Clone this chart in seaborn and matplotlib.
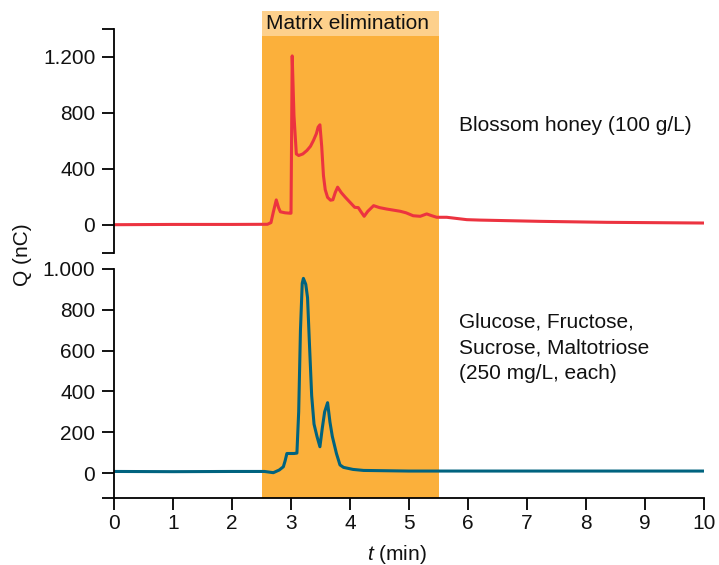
import matplotlib
matplotlib.use("Agg")
import matplotlib.pyplot as plt
import matplotlib.transforms as mtransforms
from matplotlib.patches import Rectangle
from matplotlib.ticker import FixedLocator
import seaborn as sns
import pandas as pd

# ---- data ----
honey_t = [0, 1, 2, 2.6, 2.66, 2.7, 2.75, 2.79, 2.82, 2.9, 2.98, 3.00, 3.02, 3.05, 3.09,
           3.13, 3.20, 3.27, 3.33, 3.38, 3.43, 3.46, 3.49, 3.52, 3.55, 3.58, 3.62, 3.67,
           3.71, 3.75, 3.79, 3.85, 3.92,
           4.0, 4.08, 4.14, 4.19, 4.24, 4.30, 4.40, 4.5, 4.62, 4.85, 4.95, 5.07, 5.19,
           5.30, 5.38, 5.47, 5.64, 5.8, 5.98, 6.2, 7.22, 8.35, 10]
honey_q = [0, 2, 2, 3, 15, 90, 177, 120, 92, 85, 82, 82, 1205, 780, 505,
           494, 505, 530, 560, 601, 650, 697, 713, 560, 350, 250, 195, 175,
           178, 230, 268, 230, 196,
           160, 124, 122, 90, 60, 95, 136, 122, 112, 96, 85, 64, 60,
           77, 65, 53, 53, 45, 36, 33, 24, 17, 12]

sugar_t = [0, 1, 2, 2.55, 2.70, 2.80, 2.87, 2.90, 2.93, 3.05, 3.10, 3.13, 3.16, 3.19,
           3.21, 3.25, 3.28, 3.31, 3.35, 3.39, 3.44, 3.49, 3.53, 3.57, 3.62, 3.66,
           3.70, 3.77, 3.83, 3.89, 4.05, 4.23, 5, 6, 7, 8, 9, 10]
sugar_q = [8, 7, 8, 8, 2, 15, 31, 60, 96, 96, 98, 300, 700, 930,
           954, 925, 860, 650, 380, 240, 180, 129, 220, 300, 345, 250,
           180, 96, 40, 28, 18, 13, 10, 10, 10, 10, 10, 10]

x_ticks = list(range(0, 11))
top_yticks = [0, 400, 800, 1200]
top_ylabels = ["0", "400", "800", "1.200"]
bot_yticks = [0, 200, 400, 600, 800, 1000]
bot_ylabels = ["0", "200", "400", "600", "800", "1.000"]

span = (2.5, 5.5)
span_label = "Matrix elimination"
honey_label = "Blossom honey (100 g/L)"
sugar_label = "Glucose, Fructose,\nSucrose, Maltotriose\n(250 mg/L, each)"

RED = "#EC3340"
BLUE = "#00637F"
ORANGE = "#FBB03B"
LIGHT = "#FDD08C"

sns.set_style("ticks")
plt.rcParams["font.family"] = ["Liberation Sans", "DejaVu Sans"]
plt.rcParams["mathtext.fontset"] = "custom"
plt.rcParams["mathtext.rm"] = "Liberation Sans"
plt.rcParams["mathtext.it"] = "Liberation Sans:italic"
FS = 15

fig = plt.figure(figsize=(7.19, 5.65), dpi=100)
ax1 = fig.add_axes([0.1586, 0.5527, 0.8205, 0.3967])
ax2 = fig.add_axes([0.1586, 0.1186, 0.8205, 0.4053])
for ax in (ax1, ax2):
    ax.set_facecolor("none")

df_h = pd.DataFrame({"t": honey_t, "q": honey_q})
df_s = pd.DataFrame({"t": sugar_t, "q": sugar_q})
sns.lineplot(data=df_h, x="t", y="q", ax=ax1, color=RED, lw=2.2, sort=False, estimator=None)
sns.lineplot(data=df_s, x="t", y="q", ax=ax2, color=BLUE, lw=2.2, sort=False, estimator=None)
for ax in (ax1, ax2):
    for ln in ax.lines:
        ln.set_solid_joinstyle("round")

# top axes
ax1.set_xlim(0, 10)
ax1.set_ylim(-200, 1400)
ax1.set_xticks([])
ax1.set_yticks(top_yticks)
ax1.set_yticklabels(top_ylabels)
ax1.yaxis.set_minor_locator(FixedLocator([-200, 1400]))
for s in ("top", "right", "bottom"):
    ax1.spines[s].set_visible(False)

# bottom axes
ax2.set_xlim(0, 10)
ax2.set_ylim(-122, 1000)
ax2.set_xticks(x_ticks)
ax2.set_xticklabels([str(v) for v in x_ticks])
ax2.set_yticks(bot_yticks)
ax2.set_yticklabels(bot_ylabels)
ax2.yaxis.set_minor_locator(FixedLocator([-122]))
for s in ("top", "right"):
    ax2.spines[s].set_visible(False)

for ax in (ax1, ax2):
    ax.set_xlabel("")
    ax.set_ylabel("")
    for s in ("left", "bottom"):
        ax.spines[s].set_linewidth(1.3)
        ax.spines[s].set_color("black")
    ax.tick_params(which="both", direction="out", length=8.5, width=1.3,
                   color="black", labelsize=FS, labelcolor="#111111")
    ax.tick_params(axis="y", pad=5)
    ax.tick_params(axis="x", pad=3)

# orange span over both panels
trans = mtransforms.blended_transform_factory(ax2.transData, fig.transFigure)
fig.add_artist(Rectangle((span[0], 0.1186), span[1] - span[0], 0.9363 - 0.1186,
                         transform=trans, facecolor=ORANGE, edgecolor="none", zorder=-1))
fig.add_artist(Rectangle((span[0], 0.9363), span[1] - span[0], 0.9805 - 0.9363,
                         transform=trans, facecolor=LIGHT, edgecolor="none", zorder=-1))
fig.text(span[0] + 0.08, 0.959, span_label, transform=trans, fontsize=FS,
         va="center", ha="left", color="#111111")

ax1.text(5.85, 706, honey_label, fontsize=FS, va="center", ha="left", color="#111111")
ax2.text(5.85, 613, sugar_label, fontsize=FS, va="center", ha="left",
         linespacing=1.45, color="#111111")

fig.text(22 / 719, 1 - 255 / 565, "Q (nC)", rotation=90, fontsize=FS,
         va="center", ha="center", color="#111111")
fig.text(397 / 719, 1 - 554 / 565, r"$t$ (min)", fontsize=FS,
         va="center", ha="center", color="#111111")

fig.savefig("out.png", dpi=100)
